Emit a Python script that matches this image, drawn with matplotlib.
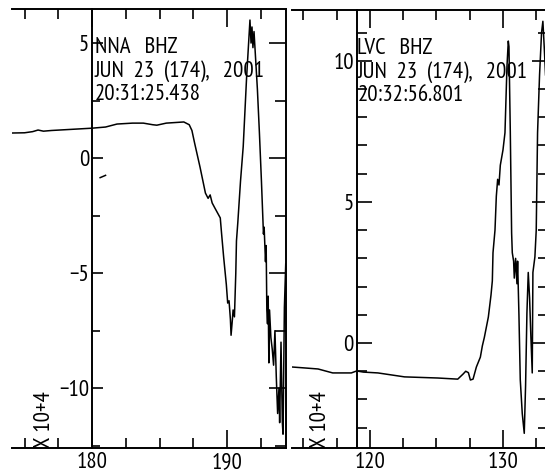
import matplotlib
matplotlib.use("Agg")
import matplotlib.pyplot as plt
from matplotlib.ticker import MultipleLocator

plt.rcParams['font.family'] = ['PT Sans Narrow', 'DejaVu Sans']
plt.rcParams['font.size'] = 16.5

# NNA BHZ trace (seconds, counts x 10^4)
nna_t = [174.07, 175.0, 175.6, 176.0, 176.4, 177.0, 178.5, 180.0, 181.0, 181.85,
         183.0, 183.8, 184.5, 184.8, 185.5, 186.8, 187.2, 187.4, 187.6, 188.0,
         188.4, 188.6, 188.75, 188.9, 189.1, 189.5, 189.6, 189.75, 189.95, 190.05,
         190.15, 190.25, 190.3, 190.4, 190.45, 190.55, 190.65, 190.7, 190.8, 191.0,
         191.2, 191.45, 191.7, 191.78, 191.85, 191.92, 192.0, 192.1, 192.25, 192.4,
         192.55, 192.7, 192.75, 192.85, 192.9, 192.95, 193.0, 193.05, 193.1, 193.15,
         193.25, 193.35, 193.45, 193.55, 193.65, 193.75, 193.85, 193.9, 194.0, 194.1,
         194.15, 194.25, 194.35]
nna_v = [1.09, 1.10, 1.15, 1.22, 1.17, 1.20, 1.25, 1.30, 1.35, 1.48,
         1.52, 1.52, 1.45, 1.43, 1.52, 1.57, 1.45, 1.2, 0.65, -0.39,
         -1.52, -1.75, -1.6, -1.95, -2.17, -2.6, -3.3, -4.3, -5.5, -6.3,
         -6.2, -7.0, -7.7, -7.0, -6.6, -6.9, -5.0, -3.6, -2.8, -1.0,
         0.5, 3.5, 6.0, 5.0, 5.7, 4.8, 5.5, 4.5, 3.0, 1.1,
         -1.0, -3.3, -3.0, -4.5, -3.8, -6.6, -7.2, -6.0, -8.9, -6.6,
         -7.8, -8.3, -9.0, -7.5, -9.5, -11.1, -10.0, -11.5, -8.0, -11.5,
         -12.0, -6.5, -4.6]
nna_dash_t = [180.6, 181.0]
nna_dash_v = [-0.85, -0.75]

# LVC BHZ trace
lvc_t = [114.14, 115.0, 116.1, 117.2, 118.6, 119.0, 119.5, 120.6, 122.6, 125.1,
         126.6, 127.0, 127.2, 127.4, 127.55, 127.75, 128.0, 128.3, 128.45, 128.6,
         128.9, 129.1, 129.2, 129.25, 129.4, 129.5, 129.6, 129.7, 129.8, 130.0,
         130.15, 130.3, 130.4, 130.45, 130.55, 130.65, 130.7, 130.8, 130.85, 130.95,
         131.05, 131.1, 131.2, 131.3, 131.45, 131.6, 131.7, 131.8, 131.9, 132.0,
         132.1, 132.2, 132.25, 132.4, 132.5, 132.6, 132.75, 132.9, 133.0, 133.1,
         133.2]
lvc_v = [-0.85, -0.88, -0.92, -1.06, -1.06, -0.99, -1.03, -1.06, -1.2, -1.24,
         -1.28, -1.1, -1.0, -1.05, -1.31, -1.28, -0.85, -0.5, -0.1, 0.2,
         0.92, 1.7, 2.2, 3.2, 4.0, 5.2, 5.8, 5.6, 6.3, 6.84,
         7.45, 9.8, 10.7, 10.5, 7.5, 3.9, 3.2, 2.9, 2.3, 3.0,
         2.1, 2.9, 1.0, -1.3, -2.5, -3.2, -1.5, 1.06, 2.5, 1.6,
         0.2, -1.06, 2.5, 3.05, 4.0, 7.45, 9.5, 11.0, 11.4, 10.5,
         9.5]

# the original font is monospaced, so the date line gets wider gaps
nna_header = ["NNA   BHZ", "JUN  23  (174),   2001", "20:31:25.438"]
lvc_header = ["LVC   BHZ", "JUN  23  (174),   2001", "20:32:56.801"]
scale_label = "X 10+4"

W, H = 545, 472
fig = plt.figure(figsize=(W / 100, H / 100), dpi=100)


def panel(px_box, t, v, xlim, ylim, axis_x, ystep, yminor, axis_len, header, text_dx, label_px):
    x0, y0, x1, y1 = px_box
    ax = fig.add_axes([x0 / W, 1 - y1 / H, (x1 - x0) / W, (y1 - y0) / H])
    ax.plot(t, v, color='black', lw=1.1)
    ax.set_xlim(xlim)
    ax.set_ylim(ylim)

    for s in ax.spines.values():
        s.set_linewidth(1.4)
    ax.spines['right'].set_visible(False)
    ax.spines['left'].set_position(('data', axis_x))

    ax.xaxis.set_major_locator(MultipleLocator(10))
    ax.xaxis.set_minor_locator(MultipleLocator(2.5))
    ax.tick_params(axis='x', which='both', direction='in', top=True, bottom=True, width=1.2)
    ax.tick_params(axis='x', which='major', length=13, pad=3)
    ax.tick_params(axis='x', which='minor', length=7)

    ax.yaxis.set_major_locator(MultipleLocator(ystep))
    ax.yaxis.set_minor_locator(MultipleLocator(yminor))
    ax.tick_params(axis='y', which='both', direction='in', left=True, right=False,
                   width=1.2, pad=2)
    ax.tick_params(axis='y', which='major', length=axis_len[0])
    ax.tick_params(axis='y', which='minor', length=axis_len[1])

    ax2 = ax.twinx()
    ax2.set_ylim(ylim)
    for name in ['left', 'top', 'bottom']:
        ax2.spines[name].set_visible(False)
    ax2.spines['right'].set_linewidth(1.4)
    ax2.yaxis.set_major_locator(MultipleLocator(ystep))
    ax2.yaxis.set_minor_locator(MultipleLocator(yminor))
    ax2.tick_params(axis='y', which='both', direction='in', right=True, labelright=False, width=1.2)
    ax2.tick_params(axis='y', which='major', length=12)
    ax2.tick_params(axis='y', which='minor', length=8)

    for i, line in enumerate(header):
        ax.annotate(line, xy=(axis_x, 1), xycoords=('data', 'axes fraction'),
                    xytext=(text_dx, -31.7 - 16.9 * i), textcoords='offset points',
                    ha='left', va='baseline')

    fig.text(label_px / W, 1 - y1 / H, scale_label, rotation=90,
             ha='center', va='bottom')
    return ax


ax_l = panel((12, 9, 286, 448), nna_t, nna_v, (174.07, 194.37), (-12.6, 6.48),
             180, 5, 2.5, (8, 6), nna_header, 2, 44)
ax_l.plot(nna_dash_t, nna_dash_v, color='black', lw=1.1)

ax_r = panel((292, 10, 549, 448), lvc_t, lvc_v, (114.14, 133.46), (-3.72, 11.8),
             119, 5, 1, (11, 7), lvc_header, 0.5, 321)

fig.savefig("out.png", dpi=100)
